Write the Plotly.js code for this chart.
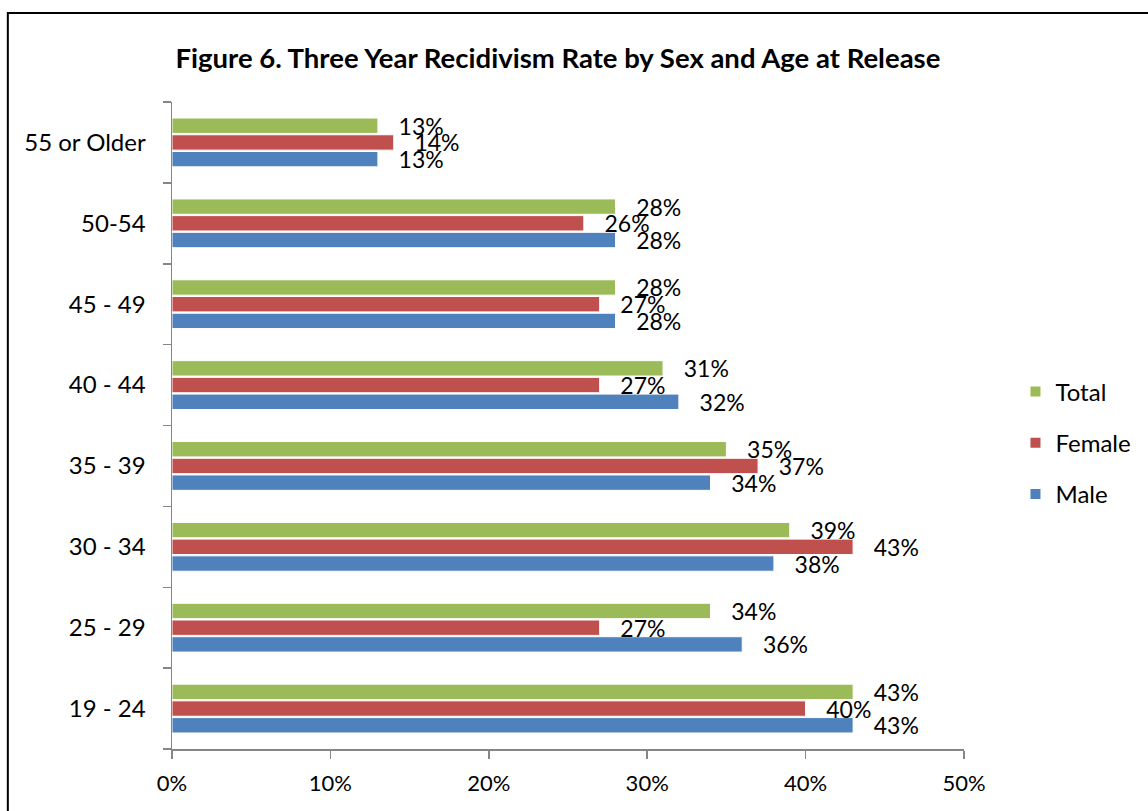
<!DOCTYPE html>
<html>
<head>
<meta charset="utf-8">
<script src="https://cdn.plot.ly/plotly-3.0.1.min.js"></script>
<style>
html,body{margin:0;padding:0;background:#fff;}
#chart{width:1148px;height:811px;}
</style>
</head>
<body>
<div id="chart"></div>
<script>
const categories = ['19 - 24', '25 - 29', '30 - 34', '35 - 39', '40 - 44', '45 - 49', '50-54', '55 or Older'];
const maleValues = [43, 36, 38, 34, 32, 28, 28, 13];
const femaleValues = [40, 27, 43, 37, 27, 27, 26, 14];
const totalValues = [43, 34, 39, 35, 31, 28, 28, 13];
const xTickVals = [0, 10, 20, 30, 40, 50];
const xTickText = ['0%', '10%', '20%', '30%', '40%', '50%'];

const FONT = 'Lato, "Open Sans", "DejaVu Sans", sans-serif';
const pad = '\u00a0\u00a0\u00a0';

function series(name, values, color, rank) {
  return {
    type: 'bar',
    orientation: 'h',
    name: name,
    legendgroup: name,
    legendrank: rank,
    y: categories,
    x: values,
    marker: {color: color, line: {color: '#ffffff', width: 1}},
    text: values.map(v => pad + v + '%'),
    textposition: 'outside',
    constraintext: 'none',
    cliponaxis: false,
    textfont: {family: FONT, size: 23, color: '#000000'},
    hoverinfo: 'x+y+name'
  };
}

const data = [
  series('Male', maleValues, '#4F81BD', 3),
  series('Female', femaleValues, '#C0504D', 2),
  series('Total', totalValues, '#9BBB59', 1)
];

const layout = {
  width: 1148,
  height: 811,
  margin: {l: 172, r: 180, t: 102, b: 62},
  paper_bgcolor: '#ffffff',
  plot_bgcolor: '#ffffff',
  font: {family: FONT, size: 22, color: '#000000'},
  barmode: 'group',
  bargap: 0.38,
  bargroupgap: 0.08,
  title: {
    text: '<b>Figure 6. Three Year Recidivism Rate by Sex and Age at Release</b>',
    font: {family: FONT, size: 27.5, color: '#000000'},
    x: 0.486, xanchor: 'center', xref: 'container',
    y: 1 - 58/811, yanchor: 'middle', yref: 'container'
  },
  xaxis: {
    range: [0, 50],
    tickvals: xTickVals,
    ticktext: xTickText,
    showgrid: false,
    zeroline: false,
    showline: true,
    linecolor: '#868686',
    linewidth: 1.5,
    ticks: 'outside',
    ticklen: 8,
    tickcolor: '#868686',
    tickwidth: 1.5,
    ticklabelstandoff: 6,
    tickfont: {family: FONT, size: 22, color: '#000000'},
    fixedrange: true
  },
  yaxis: {
    type: 'category',
    categoryorder: 'array',
    categoryarray: categories,
    range: [-0.5, 7.5],
    showgrid: false,
    zeroline: false,
    showline: true,
    linecolor: '#868686',
    linewidth: 1.5,
    ticks: 'outside',
    tickson: 'boundaries',
    ticklen: 8,
    tickcolor: '#868686',
    tickwidth: 1.5,
    ticklabelstandoff: 20,
    tickfont: {family: FONT, size: 24, color: '#000000'},
    fixedrange: true
  },
  legend: {
    x: 1.065, xanchor: 'left',
    y: 0.473, yanchor: 'middle',
    traceorder: 'grouped',
    font: {family: FONT, size: 24, color: '#000000'},
    itemsizing: 'constant',
    tracegroupgap: 17,
    bgcolor: 'rgba(0,0,0,0)'
  },
  shapes: [{
    type: 'rect', xref: 'paper', yref: 'paper', layer: 'above',
    x0: (7 - 172) / 796, x1: (1160 - 172) / 796,
    y0: (749 - 830) / 647, y1: (749 - 13) / 647,
    line: {color: '#000000', width: 2},
    fillcolor: 'rgba(0,0,0,0)'
  }],
  showlegend: true
};

Plotly.newPlot('chart', data, layout, {displayModeBar: false, staticPlot: true});
</script>
</body>
</html>
